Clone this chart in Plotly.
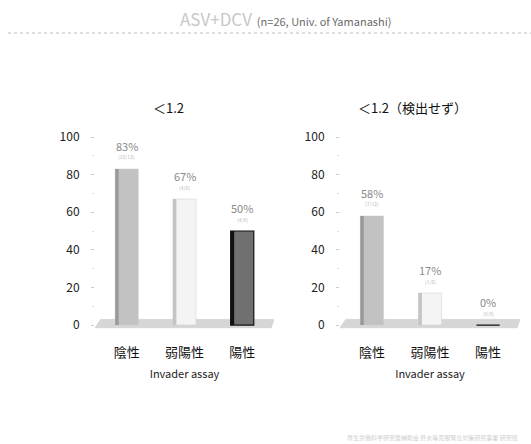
import plotly.graph_objects as go

categories = ["陰性", "弱陽性", "陽性"]
left_values = [83, 67, 50]
right_values = [58, 17, 0]
left_labels = ["83%", "67%", "50%"]
right_labels = ["58%", "17%", "0%"]
left_sub = ["(10/12)", "(4/6)", "(4/8)"]
right_sub = ["(7/12)", "(1/6)", "(0/8)"]
panel_titles = ["＜1.2", "＜1.2（検出せず）"]
y_ticks = [0, 20, 40, 60, 80, 100]

bar_colors = ["#c2c2c2", "#f4f4f4", "#707070"]
edge_colors = ["#9a9a9a", "#c4c4c4", "#111111"]
outline_colors = ["#cccccc", "#cccccc", "#111111"]

FONT = "Noto Sans CJK JP"
fig = go.Figure()

W, H = 531, 444
def px(x):
    return x / W
def py(y):
    return 1 - y / H

for vals, xa, ya in [(left_values, "x", "y"), (right_values, "x2", "y2")]:
    fig.add_trace(go.Bar(x=categories, y=vals, width=0.4, xaxis=xa, yaxis=ya,
                         marker=dict(color=bar_colors,
                                     line=dict(width=[0.5, 0.5, 1.2], color=outline_colors)),
                         showlegend=False, hoverinfo="skip"))
    fig.add_trace(go.Bar(x=categories, y=vals, width=0.06, offset=-0.2, xaxis=xa, yaxis=ya,
                         marker=dict(color=edge_colors, line=dict(width=0)),
                         showlegend=False, hoverinfo="skip"))

common_y = dict(range=[-2, 100], tickvals=y_ticks, showgrid=False, zeroline=False,
                showline=False, ticks="outside", ticklen=3, tickcolor="#cccccc",
                ticklabelstandoff=9, automargin=False,
                minor=dict(dtick=10, ticks="outside", ticklen=2, tickcolor="#dddddd"),
                tickfont=dict(family=FONT, size=12, color="#222222"))
common_x = dict(range=[-0.55, 2.55], showgrid=False, zeroline=False, showline=False,
                ticks="", ticklabelstandoff=14, automargin=False,
                tickfont=dict(family=FONT, size=13, color="#111111"),
                title=dict(text="Invader assay", standoff=10,
                           font=dict(family=FONT, size=11, color="#222222")))

y_dom = [py(328.8), py(137)]
fig.update_layout(
    template="none",
    width=W, height=H, margin=dict(l=0, r=0, t=0, b=0, autoexpand=False),
    paper_bgcolor="white", plot_bgcolor="rgba(0,0,0,0)",
    barmode="overlay",
    xaxis=dict(domain=[px(95), px(274)], anchor="y", **common_x),
    yaxis=dict(domain=y_dom, anchor="x", **common_y),
    xaxis2=dict(domain=[px(340), px(520)], anchor="y2", **common_x),
    yaxis2=dict(domain=y_dom, anchor="x2", **common_y),
)

# floors
for xr, yr in [("x", "y"), ("x2", "y2")]:
    fig.add_shape(type="path", xref=xr, yref=yr, layer="below",
                  path="M -0.55 -1.5 L 2.5 -1.5 L 2.55 3 L -0.45 3 Z",
                  fillcolor="#d6d6d6", line=dict(color="#c4c4c4", width=0.5))

# value labels
for vals, labs, subs, xr, yr in [(left_values, left_labels, left_sub, "x", "y"),
                                 (right_values, right_labels, right_sub, "x2", "y2")]:
    for c, v, l, s in zip(categories, vals, labs, subs):
        fig.add_annotation(x=c, y=v, xref=xr, yref=yr, text=l, showarrow=False,
                           xanchor="center", yshift=23,
                           font=dict(family=FONT, size=11, color="#8a8a8a"))
        fig.add_annotation(x=c, y=v, xref=xr, yref=yr, text=s, showarrow=False,
                           xanchor="center", yshift=12,
                           font=dict(family=FONT, size=5, color="#bbbbbb"))

# panel titles
fig.add_annotation(x=px(168), y=py(108), xref="paper", yref="paper", text=panel_titles[0],
                   xanchor="center", yanchor="middle", showarrow=False,
                   font=dict(family=FONT, size=13, color="#111111"))
fig.add_annotation(x=px(412), y=py(108), xref="paper", yref="paper", text=panel_titles[1],
                   xanchor="center", yanchor="middle", showarrow=False,
                   font=dict(family=FONT, size=13, color="#111111"))

# main title
fig.add_annotation(x=px(178), y=py(18), xref="paper", yref="paper", xanchor="left",
                   yanchor="middle",
                   text="<span style='font-size:17px;color:#c8c8c8'>ASV+DCV</span>"
                        "<span style='font-size:11px;color:#6a6a6a'>  (n=26, Univ. of Yamanashi)</span>",
                   showarrow=False, font=dict(family=FONT, size=11, color="#6a6a6a"))
fig.add_shape(type="line", xref="paper", yref="paper", x0=px(8), x1=1, y0=py(33), y1=py(33),
              line=dict(color="#bdbdbd", width=1, dash="dot"))

# footer
fig.add_annotation(x=px(520), y=py(437), xref="paper", yref="paper", xanchor="right",
                   yanchor="middle",
                   text="厚生労働科学研究費補助金 肝炎等克服緊急対策研究事業 研究班",
                   showarrow=False, font=dict(family=FONT, size=6, color="#cfcfcf"))

fig.write_html("out.html")
